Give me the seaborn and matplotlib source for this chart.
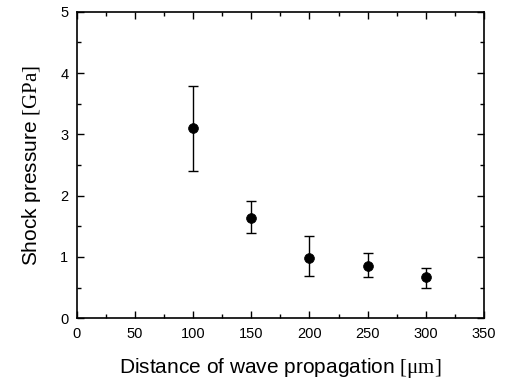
import numpy as np
import pandas as pd
import seaborn as sns
import matplotlib
matplotlib.use('Agg')
import matplotlib.pyplot as plt
from matplotlib.ticker import MultipleLocator

# data
distance = [100, 150, 200, 250, 300]
pressure = [3.10, 1.63, 0.99, 0.86, 0.67]
upper = [3.79, 1.91, 1.35, 1.06, 0.82]
lower = [2.40, 1.39, 0.69, 0.67, 0.49]

df = pd.DataFrame({'distance': distance, 'pressure': pressure,
                   'upper': upper, 'lower': lower})

sns.set_style('ticks')
plt.rcParams['font.family'] = ['Liberation Sans', 'DejaVu Sans']
plt.rcParams['mathtext.fontset'] = 'custom'
plt.rcParams['mathtext.rm'] = 'Liberation Serif'
plt.rcParams['text.color'] = 'black'
plt.rcParams['axes.labelcolor'] = 'black'

fig = plt.figure(figsize=(5.06, 3.82), dpi=100)
ax = fig.add_axes([0.1516, 0.1667, 0.805, 0.8027])

# error bars first, then the markers on top
yerr = np.array([df['pressure'] - df['lower'], df['upper'] - df['pressure']])
ax.errorbar(df['distance'], df['pressure'], yerr=yerr, fmt='none',
            ecolor='black', elinewidth=1, capsize=3.5, capthick=1)
sns.scatterplot(data=df, x='distance', y='pressure', ax=ax, color='black',
                s=50, edgecolor='black', linewidth=0.5, zorder=3)

ax.set_xlim(0, 350)
ax.set_ylim(0, 5)
ax.xaxis.set_major_locator(MultipleLocator(50))
ax.xaxis.set_minor_locator(MultipleLocator(25))
ax.yaxis.set_major_locator(MultipleLocator(1))
ax.yaxis.set_minor_locator(MultipleLocator(0.5))
ax.tick_params(which='both', direction='in', top=True, right=True,
               width=1, labelsize=10.5, pad=6, colors='black')
ax.tick_params(which='major', length=5)
ax.tick_params(which='minor', length=3)
for s in ax.spines.values():
    s.set_linewidth(1.2)
    s.set_color('black')

ax.set_xlabel(r'Distance of wave propagation $\mathrm{[\mu m]}$', fontsize=15, labelpad=11)
ax.set_ylabel(r'Shock pressure $\mathrm{[GPa]}$', fontsize=15, labelpad=12)

fig.savefig('out.png', dpi=100)
